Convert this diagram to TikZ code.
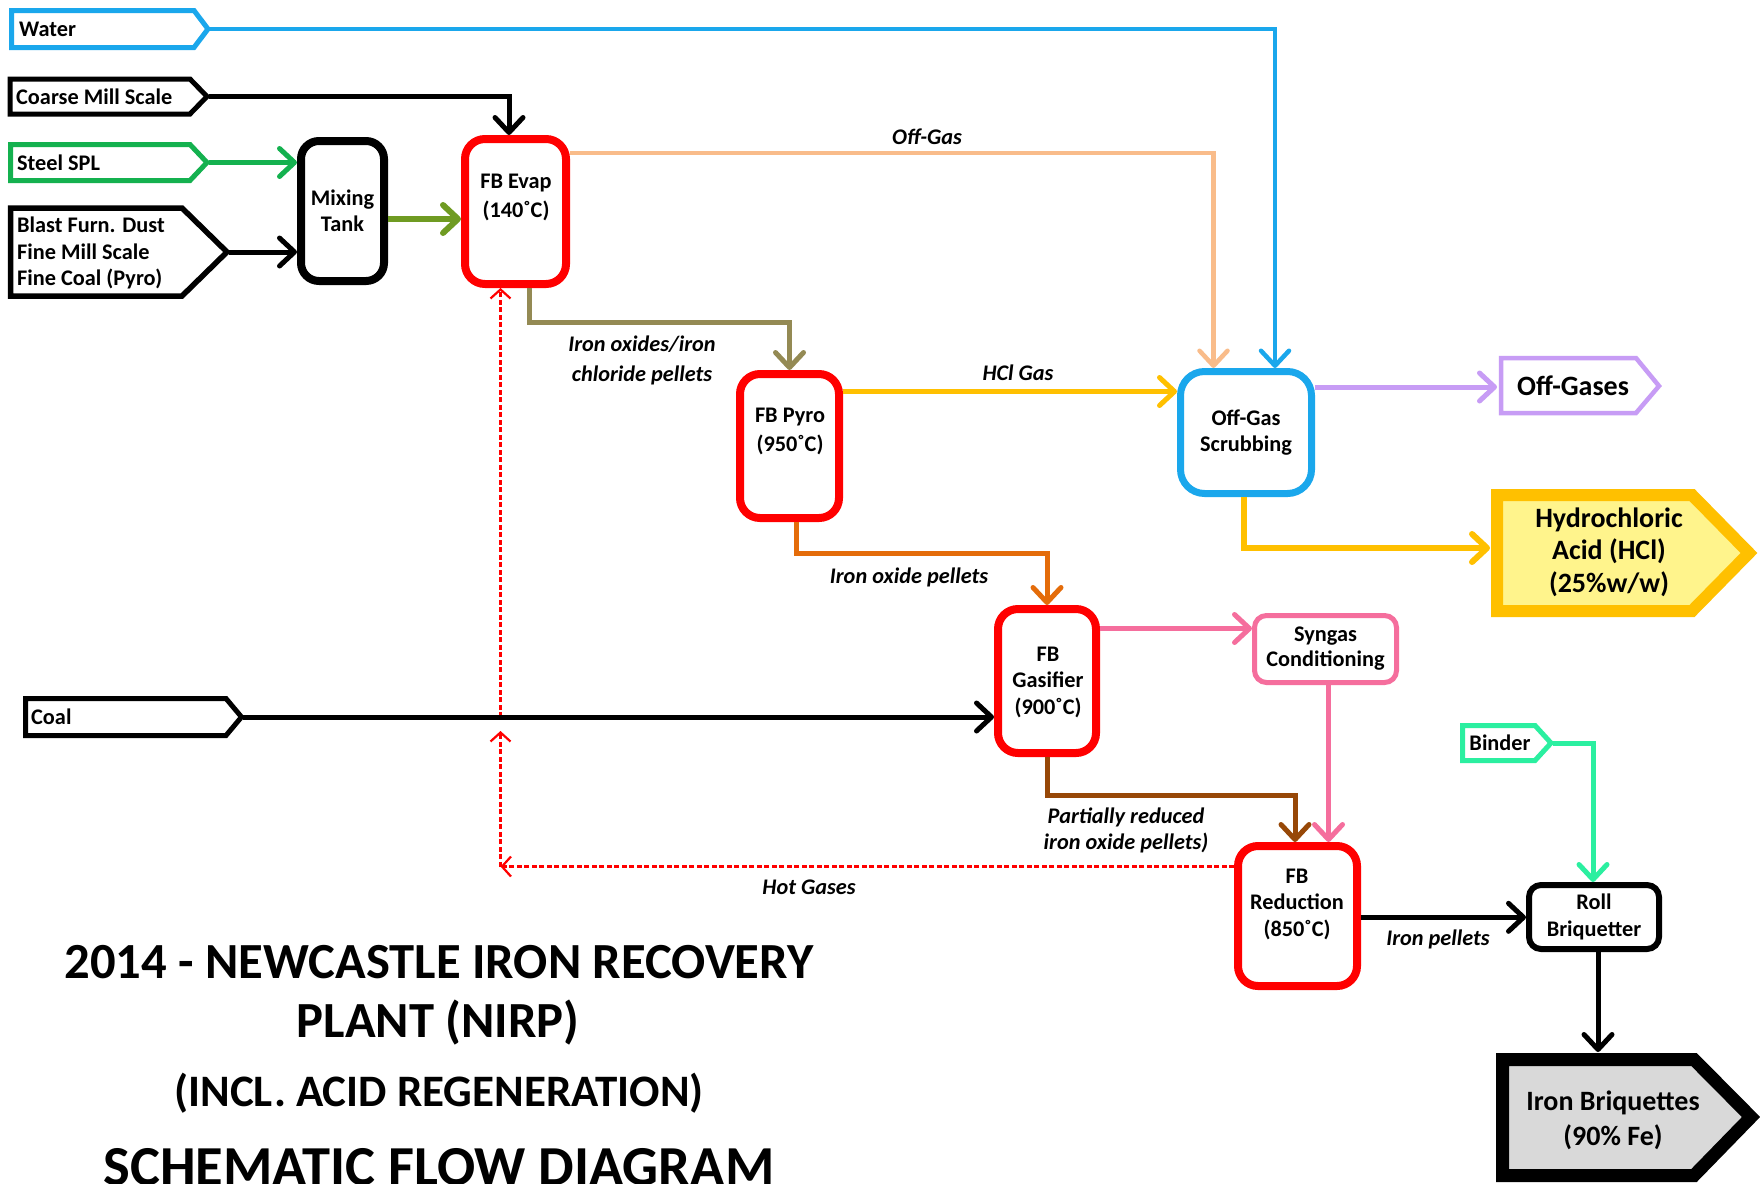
\documentclass[tikz,border=0pt]{standalone}
\usepackage{fontspec}
\setmainfont{Carlito}
\usetikzlibrary{arrows.meta}
\definecolor{waterc}{HTML}{1AA7EC}
\definecolor{steelc}{HTML}{14B14F}
\definecolor{mixc}{HTML}{6F9B22}
\definecolor{peachc}{HTML}{F9BC8A}
\definecolor{olivec}{HTML}{948A54}
\definecolor{yelc}{HTML}{FFC000}
\definecolor{hclc}{HTML}{FFC000}
\definecolor{hclfill}{HTML}{FFF48C}
\definecolor{lavc}{HTML}{C79CF5}
\definecolor{orangec}{HTML}{E46C0A}
\definecolor{pinkc}{HTML}{F56E9D}
\definecolor{brownc}{HTML}{974807}
\definecolor{mintc}{HTML}{2BEFA0}
\definecolor{briqfill}{HTML}{D9D9D9}
\begin{document}
\begin{tikzpicture}[x=1pt,y=-1pt,
  every node/.append style={inner sep=0pt},
  tx/.style={font=\fontsize{22.3}{26.5}\selectfont\bfseries, align=center},
  txw/.style={font=\fontsize{22.3}{29.5}\selectfont\bfseries, align=center},
  lbl/.style={font=\fontsize{22.3}{27}\selectfont\bfseries\itshape, align=center},
  arr/.style={line width=5pt, -{Straight Barb[round,length=15pt,width=28pt]}},
  dsh/.style={draw=red, line width=2.2pt, dash pattern=on 5pt off 2.5pt, -{Straight Barb[length=9pt,width=20pt]}},
  redbox/.style={draw=red, fill=white, line width=8pt, rounded corners=20pt},
  inbox/.style={line width=5pt, line join=miter, fill=white},
  ttl/.style={font=\fontsize{50.6}{52}\selectfont\bfseries}
]
\fill[white] (0,0) rectangle (1760,1183);
\useasboundingbox (0,0) rectangle (1760,1183);

% ---------- input / output pentagons
\draw[inbox, draw=waterc] (11.5,10.5) -- (194,10.5) -- (208,29) -- (194,47.5) -- (11.5,47.5) -- cycle;
\node[tx, anchor=west] (water) at (19,29) {Water};
\coordinate (waterTip) at (210,29);

\draw[inbox] (10,79) -- (190,79) -- (207,96.5) -- (190,114) -- (10,114) -- cycle;
\node[tx, anchor=west] (coarse) at (16,96.5) {Coarse Mill Scale};
\coordinate (coarseTip) at (209,96.5);

\draw[inbox, draw=steelc] (10.5,144.5) -- (190,144.5) -- (207,162.5) -- (190,180.5) -- (10.5,180.5) -- cycle;
\node[tx, anchor=west] (steel) at (17,162.5) {Steel SPL};
\coordinate (steelTip) at (209,162.5);

\draw[inbox, line width=5.5pt] (10.5,208) -- (182,208) -- (227,252) -- (182,296) -- (10.5,296) -- cycle;
\node[tx, anchor=west, align=left] (blast) at (17,253) {Blast Furn. Dust\\Fine Mill Scale\\Fine Coal (Pyro)};
\coordinate (blastTip) at (229,252);

\draw[inbox] (25.5,698.5) -- (226,698.5) -- (241.5,717) -- (226,735.5) -- (25.5,735.5) -- cycle;
\node[tx, anchor=west] (coal) at (31,717) {Coal};
\coordinate (coalTip) at (243,717);

\draw[inbox, draw=mintc] (1462.5,725.5) -- (1535,725.5) -- (1551,743) -- (1535,760.5) -- (1462.5,760.5) -- cycle;
\node[tx] (binder) at (1500,743) {Binder};
\coordinate (binderTip) at (1553,743);

\draw[inbox, draw=lavc, line width=4.5pt] (1501,358) -- (1636,358) -- (1659,386) -- (1636,413) -- (1501,413) -- cycle;
\node[font=\fontsize{28}{32}\selectfont\bfseries] (offgases) at (1573,386) {Off-Gases};
\coordinate (offgIn) at (1497,387);

\draw[line width=12pt, draw=hclc, fill=hclfill, line join=miter] (1497,495) -- (1692,495) -- (1749,553) -- (1692,611) -- (1497,611) -- cycle;
\node[font=\fontsize{28}{32.5}\selectfont\bfseries, align=center] (hcl) at (1609,552) {Hydrochloric\\Acid (HCl)\\(25\%w/w)};
\coordinate (hclIn) at (1490,548);

\draw[line width=13pt, fill=briqfill, line join=miter] (1502.5,1059.5) -- (1694,1059.5) -- (1751,1117) -- (1694,1175.5) -- (1502.5,1175.5) -- cycle;
\node[font=\fontsize{28}{35}\selectfont\bfseries, align=center] (briq) at (1613,1120) {Iron Briquettes\\(90\% Fe)};
\coordinate (briqIn) at (1598,1052);

% ---------- process boxes
\node[draw, fill=white, line width=8pt, rounded corners=18pt, minimum width=83pt, minimum height=140pt, tx] (mix) at (342.5,211) {Mixing\\Tank};
\node[redbox, minimum width=101pt, minimum height=145pt] (evap) at (515.5,211.5) {};
\node[txw] (evapt) at (516,197.5) {FB Evap\\(140˚C)};
\node[redbox, minimum width=99pt, minimum height=144pt] (pyro) at (789.5,446) {};
\node[txw] (pyrot) at (790,431.7) {FB Pyro\\(950˚C)};
\node[redbox, minimum width=98pt, minimum height=144pt] (gas) at (1047,681) {};
\node[tx] (gast) at (1048,682) {FB\\Gasifier\\(900˚C)};
\node[redbox, minimum width=119pt, minimum height=140pt] (red) at (1297.5,916) {};
\node[tx] (redt) at (1297,904) {FB\\Reduction\\(850˚C)};
\node[draw=waterc, fill=white, line width=7pt, rounded corners=24pt, minimum width=131pt, minimum height=122pt, font=\fontsize{22.3}{26.7}\selectfont\bfseries, align=center] (scrub) at (1246,432.5) {Off-Gas\\Scrubbing};
\node[draw=pinkc, fill=white, line width=5pt, rounded corners=12pt, minimum width=142pt, minimum height=67pt, font=\fontsize{22.3}{25}\selectfont\bfseries, align=center] (syn) at (1325.5,649) {Syngas\\Conditioning};
\node[draw, fill=white, line width=6pt, rounded corners=12pt, minimum width=130pt, minimum height=64pt, font=\fontsize{22.3}{27.5}\selectfont\bfseries, align=center] (roll) at (1594,917) {Roll\\Briquetter};

% ---------- helper coordinates
\coordinate (cWX) at (1275,0);
\coordinate (cCX) at (509,0);
\coordinate (cMY) at (0,219);
\coordinate (cPY) at (0,153);
\coordinate (cPX) at (1213.5,0);
\coordinate (cOX) at (529,0);
\coordinate (cOY) at (0,322.5);
\coordinate (cHY) at (0,391.5);
\coordinate (cLY) at (0,387);
\coordinate (cSX) at (1244,0);
\coordinate (cQX) at (796.5,0);
\coordinate (cQY) at (0,553);
\coordinate (cGY) at (0,628.5);
\coordinate (cB1) at (1295,795);
\coordinate (cSyX) at (1328.5,0);
\coordinate (cRY) at (0,917.3);
\coordinate (cBiX) at (1593,0);
\coordinate (hotC) at (500.5,866.5);
\coordinate (hotUp) at (500.5,731);
\coordinate (hotS) at (500.5,717);

% ---------- connectors
\draw[dsh] (red.west |- hotC) -- (hotC);
\draw[dsh] (hotC) -- (hotUp);
\draw[dsh] (hotS) -- (evap.south -| hotS);

\draw[arr, draw=waterc, line width=4.5pt] (waterTip) -| (scrub.north -| cWX);
\draw[arr] (coarseTip) -| (evap.north -| cCX);
\draw[arr, draw=steelc] (steelTip) -- (mix.west |- steelTip);
\draw[arr] (blastTip) -- (mix.west |- blastTip);
\draw[arr, draw=mixc, line width=6pt] (mix.east |- cMY) -- (evap.west |- cMY);
\draw[arr, draw=peachc, line width=4.5pt] (evap.east |- cPY) -| (scrub.north -| cPX);
\draw[arr, draw=olivec] (evap.south -| cOX) |- (pyro.north |- cOY) -- (pyro.north);
\draw[arr, draw=yelc] (pyro.east |- cHY) -- (scrub.west |- cHY);
\draw[arr, draw=lavc] (scrub.east |- cLY) -- (offgIn);
\draw[arr, draw=hclc, line width=6pt] (scrub.south -| cSX) |- (hclIn);
\draw[arr, draw=orangec] (pyro.south -| cQX) |- (gas.north |- cQY) -- (gas.north);
\draw[arr, draw=pinkc] (gas.east |- cGY) -- (syn.west |- cGY);
\draw[arr] (coalTip) -- (gas.west |- coalTip);
\draw[arr, draw=brownc] (gas.south) |- (cB1) -- (red.north -| cB1);
\draw[arr, draw=pinkc] (syn.south -| cSyX) -- (red.north -| cSyX);
\draw[arr] (red.east |- cRY) -- (roll.west |- cRY);
\draw[arr, draw=mintc] (binderTip) -| (roll.north -| cBiX);
\draw[arr] (roll.south -| briqIn) -- (briqIn);

% ---------- labels
\node[lbl] (lOffGas) at (927,137) {Off-Gas};
\node[lbl, font=\fontsize{22.3}{30}\selectfont\bfseries\itshape] (lIron1) at (642,360) {Iron oxides/iron\\chloride pellets};
\node[lbl] (lHCl) at (1018,373) {HCl Gas};
\node[lbl] (lIronOx) at (909,577) {Iron oxide pellets};
\node[lbl, font=\fontsize{22.3}{25.5}\selectfont\bfseries\itshape] (lPart) at (1126,830.5) {Partially reduced\\iron oxide pellets)};
\node[lbl] (lIronP) at (1438,939) {Iron pellets};
\node[lbl] (lHot) at (809,887) {Hot Gases};

% ---------- title
\node[ttl] (t1) at (439,962) {2014 - NEWCASTLE IRON RECOVERY};
\node[ttl] (t2) at (438,1023) {PLANT (NIRP)};
\node[font=\fontsize{45}{47}\selectfont\bfseries] (t3) at (439,1093) {(INCL. ACID REGENERATION)};
\node[font=\fontsize{56.5}{58}\selectfont\bfseries] (t4) at (439,1167) {SCHEMATIC FLOW DIAGRAM};
\end{tikzpicture}
\end{document}
